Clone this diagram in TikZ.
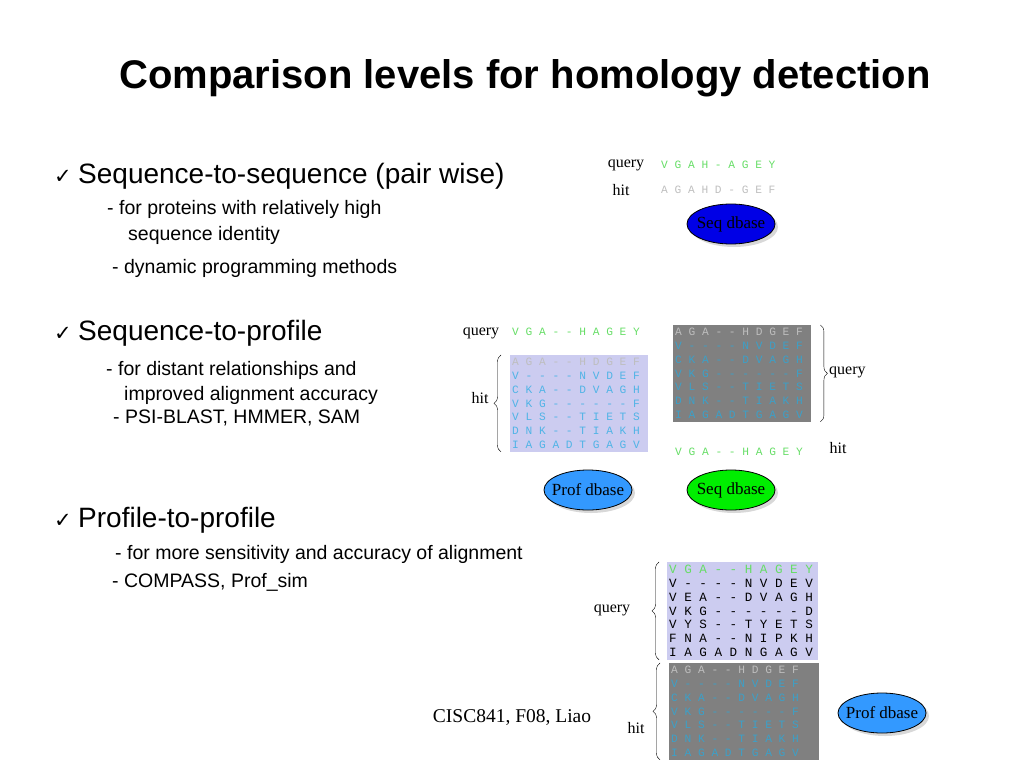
\documentclass[tikz,border=0pt]{standalone}
\usepackage{fontspec}
\setmainfont{Liberation Sans}
\setmonofont{Liberation Mono}
\newfontfamily\timesfont{Liberation Serif}
\newfontfamily\symfont{DejaVu Sans}
\usepackage{tikz}
\usetikzlibrary{shapes.geometric,shadows,decorations.pathreplacing}
\definecolor{seqgreen}{RGB}{102,221,102}
\definecolor{rowgrey}{RGB}{190,190,190}
\definecolor{lavender}{RGB}{204,204,240}
\definecolor{hitcyan}{RGB}{80,180,230}
\definecolor{darkbox}{RGB}{128,128,128}
\definecolor{darkcyan}{RGB}{60,160,200}
\definecolor{seqblue}{RGB}{0,0,230}
\definecolor{profblue}{RGB}{51,153,255}
\definecolor{seqlime}{RGB}{0,238,0}
\newcommand{\monospaces}{\spaceskip=0pt\xspaceskip=0pt\relax}
\newcommand{\hitprofile}{\monospaces\textcolor{rowgrey}{A G A - - H D G E F}\\ V - - - - N V D E F\\ C K A - - D V A G H\\ V K G - - - - - - F\\ V L S - - T I E T S\\ D N K - - T I A K H\\ I A G A D T G A G V}

\begin{document}
\begin{tikzpicture}[x=1pt,y=-1pt]

\tikzset{chk/.style = {anchor=base west, inner sep=0, font=\symfont\fontsize{21}{23}\selectfont}}
\tikzset{head/.style = {anchor=base west, inner sep=0, font=\fontsize{28}{30}\selectfont}}
\tikzset{sub/.style = {anchor=base west, inner sep=0, font=\fontsize{19.5}{22}\selectfont}}
\tikzset{lbl/.style = {inner sep=0, font=\timesfont\fontsize{16}{18}\selectfont}}
\tikzset{seq/.style = {anchor=west, inner sep=0, font=\ttfamily\fontsize{11.2}{13.8}\selectfont}}
\tikzset{aln/.style = {anchor=north west, align=left, inner xsep=2pt, inner ysep=3pt, font=\ttfamily\fontsize{11.2}{13.8}\selectfont}}
\tikzset{dbase/.style = {ellipse, draw, thick, minimum width=88pt, minimum height=40pt, inner sep=0, drop shadow={shadow xshift=3pt, shadow yshift=-3pt, fill=gray!60}, font=\timesfont\fontsize{17}{19}\selectfont}}
\tikzset{brc/.style = {decorate, decoration={brace, amplitude=7pt}, thin}}
\useasboundingbox (0,0) rectangle (1024,768);
%\draw[help lines, step=50] (0,0) grid (1024,768);

\node[anchor=base, font=\bfseries\fontsize{40}{44}\selectfont] (title) at (525,88) {Comparison levels for homology detection};

% pair wise
\node[chk] (c1) at (54,183) {✓};
\node[head] (h1) at (78,183) {Sequence-to-sequence (pair wise)};
\node[sub] (s1a) at (107,214) {- for proteins with relatively high};
\node[sub] (s1b) at (128,240) {sequence identity};
\node[sub] (s1c) at (112,273) {- dynamic programming methods};

\node[lbl] (q1) at (626,165) {query};
\node[seq, text=seqgreen] (qs1) at (661,165) {V G A H - A G E Y};
\node[lbl] (h1l) at (621,190) {hit};
\node[seq, text=rowgrey] (hs1) at (661,190) {A G A H D - G E F};
\node[dbase, fill=seqblue] (seqdb1) at (731,224) {\makebox[0pt]{Seq dbase}};

% profile
\node[chk] (c2) at (54,340) {✓};
\node[head] (h2) at (78,340) {Sequence-to-profile};
\node[sub] (s2a) at (106,375) {- for distant relationships and};
\node[sub] (s2b) at (124,400) {improved alignment accuracy};
\node[sub] (s2c) at (113,423) {- PSI-BLAST, HMMER, SAM};

\node[lbl] (q2) at (481,333) {query};
\node[seq, text=seqgreen] (qs2) at (512,332) {V G A - - H A G E Y};
\node[aln, fill=lavender, text=hitcyan, text width=134pt] (hp2) at (510,355) {\hitprofile};
\draw[brc] ([xshift=-9pt]hp2.south west) -- ([xshift=-9pt]hp2.north west);
\node[lbl] (h2l) at (480,398) {hit};

\node[aln, fill=darkbox, text=darkcyan, text width=134pt] (qp2) at (673,325) {\hitprofile};
\draw[brc] ([xshift=9pt]qp2.north east) -- ([xshift=9pt]qp2.south east);
\node[lbl, anchor=west] (q2r) at (829,372) {query};
\node[seq, text=seqgreen] (hs2) at (675,452) {V G A - - H A G E Y};
\node[lbl] (h2r) at (838,448) {hit};

\node[dbase, fill=profblue] (profdb1) at (588,490) {\makebox[0pt]{Prof dbase}};
\node[dbase, fill=seqlime] (seqdb2) at (731,490) {\makebox[0pt]{Seq dbase}};

% profile-profile
\node[chk] (c3) at (54,527) {✓};
\node[head] (h3) at (78,527) {Profile-to-profile};
\node[sub] (s3a) at (115,559) {- for more sensitivity and accuracy of alignment};
\node[sub] (s3b) at (112,587) {- COMPASS, Prof\_sim};

\node[aln, fill=lavender, text=black, text width=147pt, font=\ttfamily\fontsize{12.6}{13.8}\selectfont] (qp3) at (667,562) {\monospaces\textcolor{seqgreen}{V G A - - H A G E Y}\\ V - - - - N V D E V\\ V E A - - D V A G H\\ V K G - - - - - - D\\ V Y S - - T Y E T S\\ F N A - - N I P K H\\ I A G A D N G A G V};
\draw[brc] ([xshift=-8pt]qp3.south west) -- ([xshift=-8pt]qp3.north west);
\node[lbl] (q3) at (612,610) {query};

\node[aln, fill=darkbox, text=darkcyan, text width=146pt] (hp3) at (669,663) {\hitprofile};
\draw[brc] ([xshift=-9pt]hp3.south west) -- ([xshift=-9pt]hp3.north west);
\node[lbl] (h3l) at (636,728) {hit};
\node[dbase, fill=profblue] (profdb2) at (882,713) {\makebox[0pt]{Prof dbase}};

\node[inner sep=0, font=\timesfont\fontsize{19.5}{22}\selectfont] (cisc) at (512,718) {CISC841, F08, Liao};
\end{tikzpicture}
\end{document}
